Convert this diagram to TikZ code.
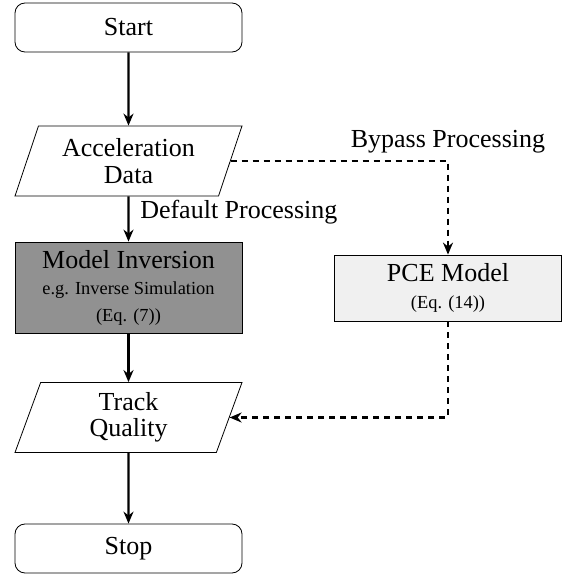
\documentclass[tikz,border=0pt]{standalone}
\usepackage{fontspec}
\setmainfont{Liberation Serif}
\usetikzlibrary{arrows.meta,shapes.geometric}

\begin{document}
\begin{tikzpicture}[x=0.5pt, y=0.5pt,
		font=\fontsize{13}{13.25}\selectfont,
		termbox/.style={draw, rounded corners=5pt, minimum width=113.5pt, minimum height=24.5pt},
		iobox/.style={draw, trapezium, trapezium left angle=68, trapezium right angle=112,
			trapezium stretches body, minimum width=113.5pt, minimum height=35pt, align=center, inner xsep=0pt},
		procbox/.style={draw, rectangle, minimum width=113.5pt, align=center},
		flow/.style={-{Stealth[length=6pt, width=5pt]}, line width=1.1pt},
		bypass/.style={flow, dash pattern=on 3pt off 2.5pt}]
			%%%%% START %%%%%
			\useasboundingbox (0, 0) rectangle (566, 575);
			
			\node[termbox] (start) at (128.5, 547.5) {Start};
			\node[iobox] (accel) at (128.5, 414) {Acceleration\\Data};
			\node[procbox, fill=black!43, minimum height=45.5pt] (minv) at (128.5, 287.5)
				{Model Inversion\\{\fontsize{9.2}{13}\selectfont e.g. Inverse Simulation}\\{\fontsize{9.2}{13}\selectfont (Eq. (7))}};
			\node[procbox, fill=black!6, minimum height=33pt] (pce) at (448, 287)
				{PCE Model\\{\fontsize{9.2}{13}\selectfont (Eq. (14))}};
			\node[iobox] (track) at (128.5, 157.5) {Track\\Quality};
			\node[termbox] (stop) at (128.5, 26.5) {Stop};
			
			\draw[flow] (start) -- (accel);
			\draw[flow] (accel) -- node[right=2pt, pos=0.35] {Default Processing} (minv);
			\draw[flow] (minv) -- (track);
			\draw[flow] (track) -- (stop);
			
			\draw[bypass] (accel.east) -| node[above, pos=0.5] {Bypass Processing} (pce.north);
			\draw[bypass] (pce.south) |- (track.east);
			%%%%% END %%%%%
		\end{tikzpicture}
\end{document}
